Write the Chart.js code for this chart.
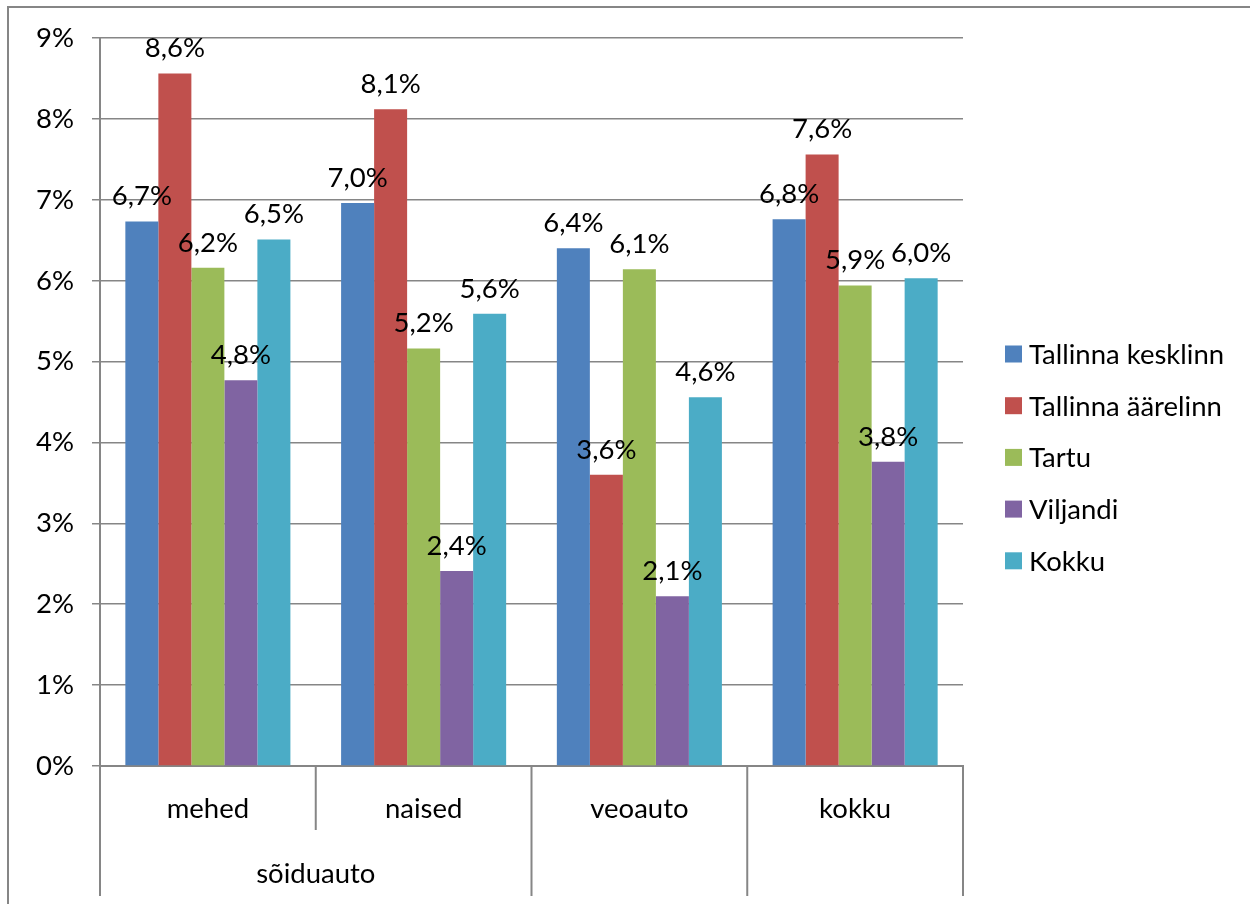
<!DOCTYPE html>
<html>
<head>
<meta charset="utf-8">
<script src="https://cdn.jsdelivr.net/npm/chart.js@4"></script>
<style>
  html, body { margin: 0; padding: 0; background: #fff; }
  #wrap { width: 1250px; height: 904px; position: relative; }
  canvas { display: block; }
</style>
</head>
<body>
<div id="wrap"><canvas id="c" width="1250" height="904"></canvas></div>
<script>
const categories = ["mehed", "naised", "veoauto", "kokku"];
const groupLabel = "sõiduauto";
const groupSpan = 2; // mehed + naised
const seriesNames = ["Tallinna kesklinn", "Tallinna äärelinn", "Tartu", "Viljandi", "Kokku"];
const tallinnaKesklinn = [6.73, 6.96, 6.40, 6.76];
const tallinnaAarelinn = [8.56, 8.12, 3.60, 7.56];
const tartu = [6.16, 5.16, 6.14, 5.94];
const viljandi = [4.77, 2.41, 2.10, 3.76];
const kokku = [6.51, 5.59, 4.56, 6.03];
const yTicks = [0, 1, 2, 3, 4, 5, 6, 7, 8, 9];
const colors = ["#4F81BD", "#C0504D", "#9BBB59", "#8064A2", "#4BACC6"];

const FONT = "Lato";
const FS = 27.5;
const GRID = "#868686";

const seriesValues = [tallinnaKesklinn, tallinnaAarelinn, tartu, viljandi, kokku];

const fmt = v => v.toFixed(1).replace('.', ',') + '%';

const extras = {
  id: 'extras',
  beforeDraw(chart) {
    const ctx = chart.ctx;
    ctx.save();
    ctx.strokeStyle = GRID;
    ctx.lineWidth = 2;
    ctx.beginPath();
    ctx.moveTo(8, 904);
    ctx.lineTo(8, 7);
    ctx.lineTo(1250, 7);
    ctx.stroke();
    ctx.restore();
  },
  afterDraw(chart) {
    const ctx = chart.ctx;
    const xs = chart.scales.x;
    const area = chart.chartArea;
    const n = categories.length;
    const bounds = [area.left];
    for (let i = 0; i < n - 1; i++) {
      bounds.push((xs.getPixelForValue(i) + xs.getPixelForValue(i + 1)) / 2);
    }
    bounds.push(area.right);
    ctx.save();
    ctx.strokeStyle = GRID;
    ctx.lineWidth = 2;
    ctx.beginPath();
    for (let i = 0; i < bounds.length; i++) {
      const inGroupInner = i > 0 && i < groupSpan;
      const yEnd = inGroupInner ? area.bottom + 64 : area.bottom + 130;
      ctx.moveTo(bounds[i], area.bottom);
      ctx.lineTo(bounds[i], yEnd);
    }
    ctx.stroke();
    // group label
    ctx.fillStyle = "#000";
    ctx.font = FS + "px " + FONT;
    ctx.textAlign = "center";
    ctx.textBaseline = "middle";
    ctx.fillText(groupLabel, (bounds[0] + bounds[groupSpan]) / 2, area.bottom + 108);

    // data labels
    chart.data.datasets.forEach((ds, di) => {
      const meta = chart.getDatasetMeta(di);
      meta.data.forEach((bar, i) => {
        ctx.fillText(fmt(ds.data[i]), bar.x, bar.y - 25);
      });
    });

    // legend
    const lx = 1005, ly0 = 354, dy = 51.7, box = 17;
    ctx.textAlign = "left";
    chart.data.datasets.forEach((ds, di) => {
      const y = ly0 + di * dy;
      ctx.fillStyle = ds.backgroundColor;
      ctx.fillRect(lx, y - box / 2, box, box);
      ctx.fillStyle = "#000";
      ctx.fillText(ds.label, lx + 24, y + 1);
    });
    ctx.restore();
  }
};

new Chart(document.getElementById('c'), {
  type: 'bar',
  data: {
    labels: categories,
    datasets: seriesNames.map((name, i) => ({
      label: name,
      data: seriesValues[i],
      backgroundColor: colors[i],
      borderWidth: 0,
      categoryPercentage: 0.765,
      barPercentage: 1.0
    }))
  },
  options: {
    responsive: false,
    animation: false,
    devicePixelRatio: 1,
    layout: { padding: { top: 38, right: 287, bottom: 0, left: 0 } },
    plugins: {
      legend: { display: false },
      tooltip: { enabled: false }
    },
    scales: {
      x: {
        grid: { display: false, drawTicks: false },
        border: { display: true, color: GRID, width: 2 },
        ticks: { color: "#000", font: { family: FONT, size: FS }, padding: 27, maxRotation: 0 },
        afterFit(scale) { scale.height = 904 - 766; }
      },
      y: {
        min: 0, max: 9,
        afterBuildTicks(scale) { scale.ticks = yTicks.map(v => ({ value: v })); },
        grid: { color: GRID, lineWidth: 1.5, tickLength: 8, drawTicks: true },
        border: { display: true, color: GRID, width: 2 },
        ticks: { color: "#000", font: { family: FONT, size: FS }, padding: 18, callback: v => v + '%' },
        afterFit(scale) { scale.width = 100; }
      }
    }
  },
  plugins: [extras]
});
</script>
</body>
</html>
